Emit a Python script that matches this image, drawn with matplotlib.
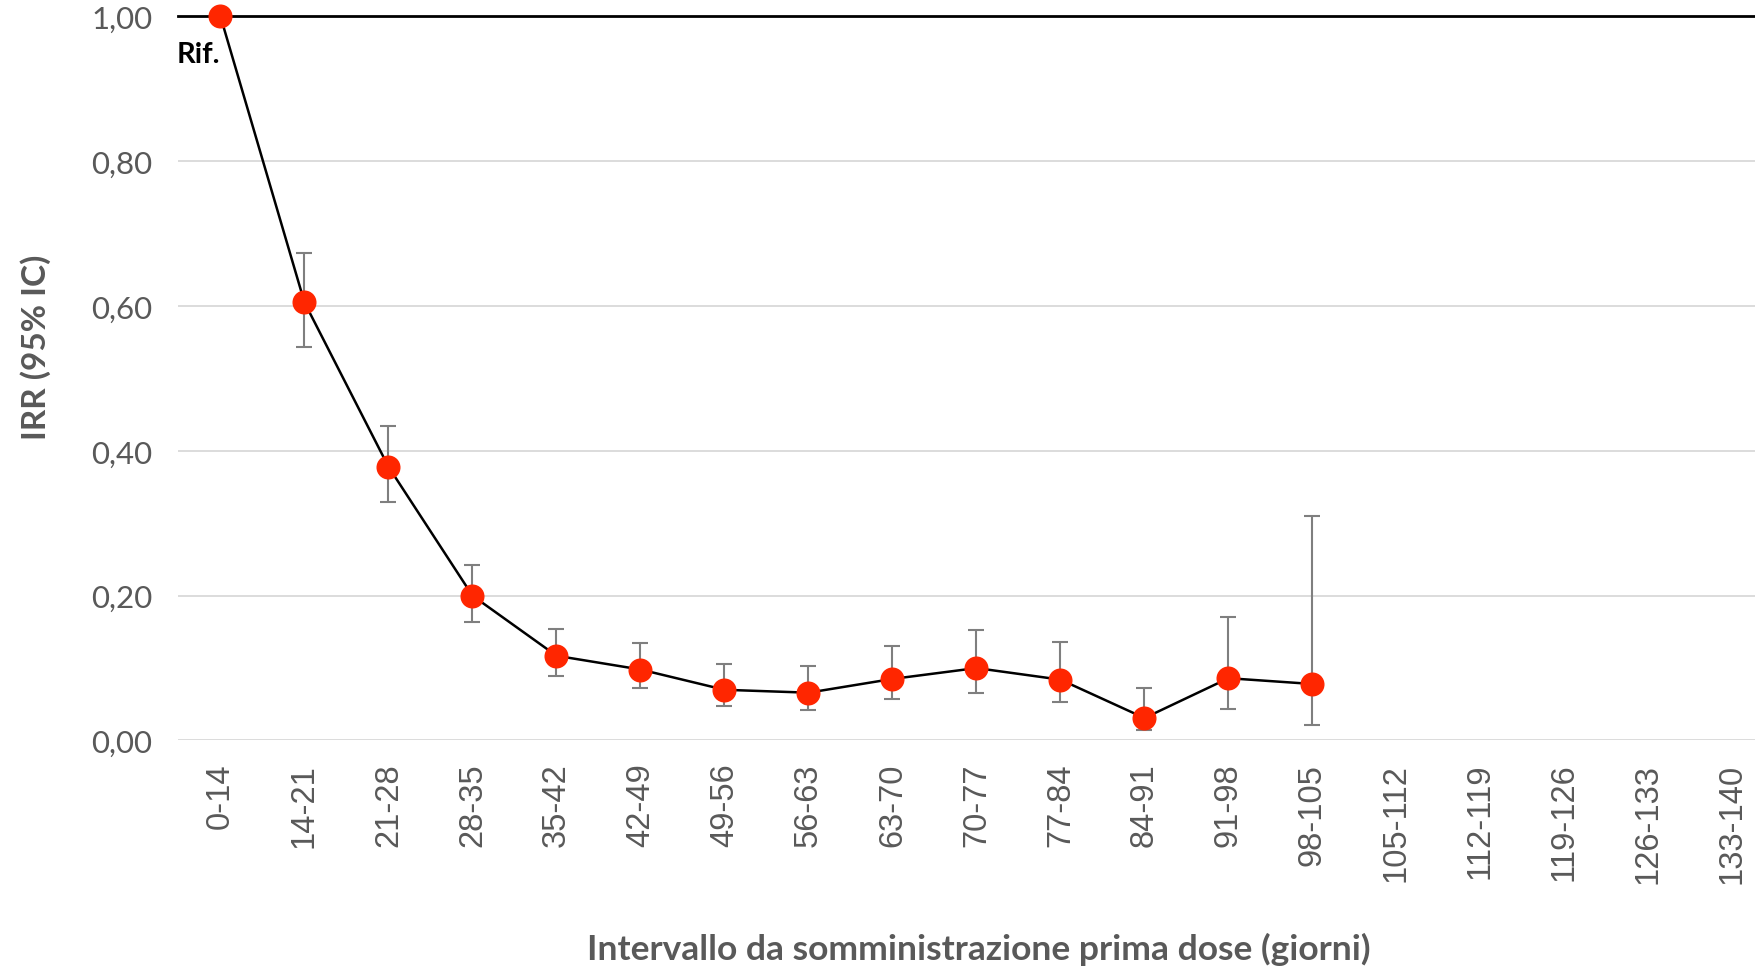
import numpy as np
import matplotlib
matplotlib.use("Agg")
import matplotlib.pyplot as plt

# -----------------------------
# IRR per intervallo dalla prima dose
# -----------------------------

intervals = ["0-14", "14-21", "21-28", "28-35", "35-42", "42-49", "49-56",
             "56-63", "63-70", "70-77", "77-84", "84-91", "91-98", "98-105",
             "105-112", "112-119", "119-126", "126-133", "133-140"]

irr = [1.00, 0.605, 0.378, 0.200, 0.117, 0.098, 0.070, 0.066, 0.085,
       0.100, 0.084, 0.031, 0.086, 0.078]
ci_low = [np.nan, 0.544, 0.330, 0.163, 0.089, 0.072, 0.047, 0.042, 0.057,
          0.066, 0.053, 0.014, 0.043, 0.021]
ci_high = [np.nan, 0.673, 0.434, 0.242, 0.154, 0.135, 0.106, 0.103, 0.131,
           0.152, 0.136, 0.073, 0.171, 0.310]

ref_value = 1.0
ref_label = "Rif."

x_title = "Intervallo da somministrazione prima dose (giorni)"
y_title = "IRR (95% IC)"

red = "#FF2600"
grey_txt = "#595959"

fig = plt.figure(figsize=(17.55, 9.70), dpi=100)
ax = fig.add_axes([0.1017, 0.2356, 0.9094, 0.7464])

xpos = np.arange(len(irr))
irr_arr = np.array(irr)
yerr = np.array([irr_arr - np.array(ci_low), np.array(ci_high) - irr_arr])

ax.set_xlim(-0.5, len(intervals) - 0.5)
ax.set_ylim(0, 1.0)
ax.set_yticks(np.arange(0, 1.01, 0.2))
ax.set_yticklabels([f"{v:.2f}".replace(".", ",") for v in np.arange(0, 1.01, 0.2)])
ax.set_xticks(np.arange(len(intervals)))
ax.set_xticklabels(intervals, rotation=90, fontsize=23.5,
                   family=["Liberation Sans", "DejaVu Sans"], color=grey_txt)

ax.grid(axis="y", color="#D9D9D9", linewidth=1.3, zorder=0)
ax.axhline(ref_value, color="black", linewidth=2.0, zorder=2, clip_on=False)

ax.errorbar(xpos, irr_arr, yerr=yerr, fmt="none", ecolor="#7F7F7F",
            elinewidth=1.5, capsize=5.8, capthick=1.5, zorder=3)
ax.plot(xpos, irr_arr, color="black", linewidth=1.8, zorder=4)
ax.plot(xpos, irr_arr, linestyle="none", marker="o", markersize=16.3,
        markerfacecolor=red, markeredgecolor=red, zorder=5, clip_on=False)

ax.annotate(ref_label, xy=(0, ref_value), xytext=(0, -27), textcoords="offset points",
            ha="right", va="center", fontsize=21, fontweight="bold",
            family=["Lato", "DejaVu Sans"], color="black")

for s in ax.spines.values():
    s.set_visible(False)
ax.tick_params(axis="both", length=0)
ax.tick_params(axis="y", pad=19, labelsize=22.5, labelcolor=grey_txt)
ax.tick_params(axis="x", pad=16)
for lab in ax.get_yticklabels():
    lab.set_family(["Lato", "DejaVu Sans"])

fig.text(0.5575, 0.004, x_title, ha="center", va="bottom", fontsize=25.5,
         fontweight="bold", color=grey_txt, family=["Lato", "DejaVu Sans"])
fig.text(0.0205, 0.642, y_title, ha="center", va="center", rotation=90,
         fontsize=24, fontweight="bold", color=grey_txt,
         family=["Lato", "DejaVu Sans"])

fig.savefig("out.png", dpi=100)
